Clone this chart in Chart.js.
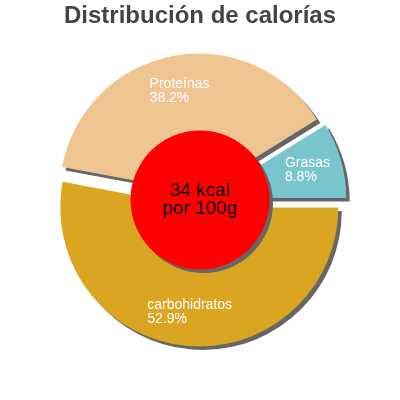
<!DOCTYPE html>
<html lang="es">
<head>
<meta charset="UTF-8" />
<title>Distribución de calorías</title>
<style>
  html, body {
    margin: 0;
    padding: 0;
    background: #fff;
  }
  #wrap {
    width: 400px;
    height: 400px;
  }
</style>
</head>
<body>
<div id="wrap">
  <canvas id="calChart" width="400" height="400"></canvas>
</div>

<script src="https://cdn.jsdelivr.net/npm/chart.js"></script>
<script>
  // Data (clockwise from 3 o'clock)
  const categories = ['carbohidratos', 'Proteínas', 'Grasas'];
  const percents = [52.9, 38.2, 8.8];
  const sliceColors = ['#DAA520', '#EEC591', '#7AC5CD'];
  const centerLines = ['34 kcal', 'por 100g'];

  const FONT = 'Arial, "Liberation Sans", sans-serif';
  const EXPLODE = 7.5;   // px each slice is pulled out
  const SHADOW = 3.5;

  // pull the slices out along their bisector
  // (chart.js' own `offset` also grows the radii, so move the centres instead)
  const explodePlugin = {
    id: 'explode',
    afterDatasetUpdate(chart, args) {
      args.meta.data.forEach(arc => {
        const mid = (arc.startAngle + arc.endAngle) / 2;
        arc.x += Math.cos(mid) * EXPLODE;
        arc.y += Math.sin(mid) * EXPLODE;
      });
    }
  };

  // hard drop shadow behind the slices
  const shadowPlugin = {
    id: 'sliceShadow',
    beforeDatasetsDraw(chart) {
      const c = chart.ctx;
      c.save();
      c.shadowColor = '#666';
      c.shadowOffsetX = SHADOW;
      c.shadowOffsetY = SHADOW;
      c.shadowBlur = 0;
    },
    afterDatasetsDraw(chart) {
      chart.ctx.restore();
    }
  };

  // red disc in the middle with the kcal text, plus slice labels
  const centerPlugin = {
    id: 'centerDisc',
    afterDatasetsDraw(chart) {
      const c = chart.ctx;
      const area = chart.chartArea;
      const cx = (area.left + area.right) / 2;
      const cy = (area.top + area.bottom) / 2;
      const arcs = chart.getDatasetMeta(0).data;
      const outer = arcs[0].outerRadius;
      const r = outer / 2;

      c.save();
      c.shadowColor = '#666';
      c.shadowOffsetX = SHADOW;
      c.shadowOffsetY = SHADOW;
      c.shadowBlur = 0;
      c.beginPath();
      c.arc(cx, cy, r, 0, Math.PI * 2);
      c.fillStyle = '#ff0000';
      c.fill();
      c.restore();

      c.save();
      c.fillStyle = '#000';
      c.font = '19px ' + FONT;
      c.textAlign = 'center';
      c.textBaseline = 'middle';
      c.fillText(centerLines[0], cx, cy - 9);
      c.fillText(centerLines[1], cx, cy + 9);
      c.restore();

      // slice labels: block centred on the visible ring, lines left aligned
      c.save();
      c.fillStyle = '#fff';
      c.font = '14px ' + FONT;
      c.textAlign = 'left';
      c.textBaseline = 'middle';
      arcs.forEach((arc, i) => {
        const mid = (arc.startAngle + arc.endAngle) / 2;
        const rad = (r + outer) / 2;
        const x = arc.x + Math.cos(mid) * rad;
        const y = arc.y + Math.sin(mid) * rad;
        const lines = [categories[i], percents[i].toFixed(1) + '%'];
        const w = Math.max(...lines.map(t => c.measureText(t).width));
        c.fillText(lines[0], x - w / 2, y - 6);
        c.fillText(lines[1], x - w / 2, y + 8);
      });
      c.restore();
    }
  };

  new Chart(document.getElementById('calChart'), {
    type: 'doughnut',
    data: {
      labels: categories,
      datasets: [{
        data: percents,
        backgroundColor: sliceColors,
        borderWidth: 0,
        hoverOffset: 0
      }]
    },
    options: {
      responsive: false,
      animation: false,
      rotation: 90,
      radius: 139,
      cutout: '40%',
      layout: { padding: { bottom: 30.8 } },
      plugins: {
        legend: { display: false },
        tooltip: { enabled: false },
        title: {
          display: true,
          text: 'Distribución de calorías',
          color: '#444',
          font: { family: FONT, size: 24, weight: 'bold' },
          padding: { top: 2, bottom: 0 }
        }
      }
    },
    plugins: [explodePlugin, shadowPlugin, centerPlugin]
  });
</script>
</body>
</html>
